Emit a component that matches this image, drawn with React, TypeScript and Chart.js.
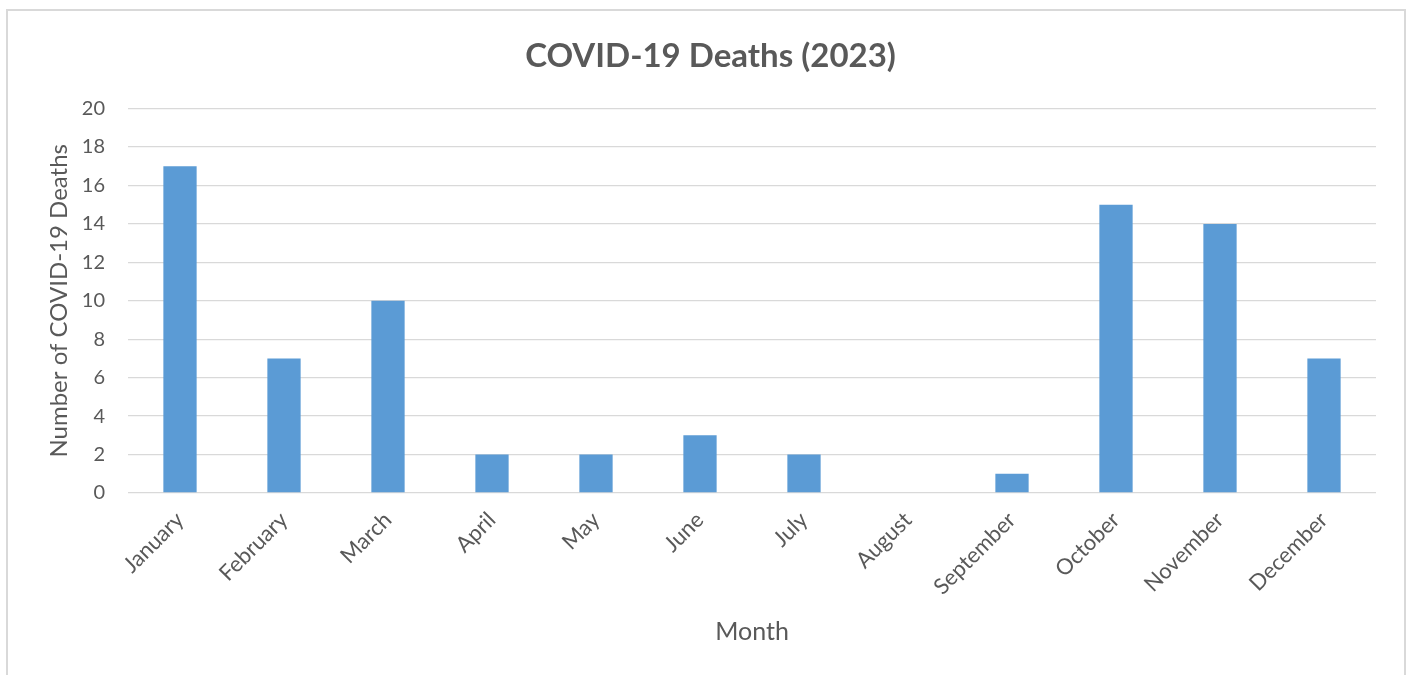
import React, { useEffect, useRef } from "react";
import { Chart, registerables } from "chart.js";

Chart.register(...registerables);

const months = [
  "January", "February", "March", "April", "May", "June",
  "July", "August", "September", "October", "November", "December",
];
const deaths = [17, 7, 10, 2, 2, 3, 2, 0, 1, 15, 14, 7];
const chartTitle = "COVID-19 Deaths (2023)";
const xTitle = "Month";
const yTitle = "Number of COVID-19 Deaths";

const FONT = "Lato, 'Open Sans', sans-serif";
const TEXT = "#595959";

export default function App() {
  const ref = useRef<HTMLCanvasElement | null>(null);
  useEffect(() => {
    if (!ref.current) return;
    const chart = new Chart(ref.current, {
      type: "bar",
      data: {
        labels: months,
        datasets: [
          {
            data: deaths,
            backgroundColor: "#5B9BD5",
            borderWidth: 0,
            barPercentage: 0.32,
            categoryPercentage: 1,
          },
        ],
      },
      options: {
        animation: false,
        responsive: false,
        devicePixelRatio: 1,
        layout: { padding: { left: 45, right: 30, top: 0, bottom: 28 } },
        plugins: {
          legend: { display: false },
          tooltip: { enabled: false },
          title: {
            display: true,
            text: chartTitle,
            color: TEXT,
            font: { family: FONT, size: 33, weight: "bold" },
            padding: { top: 37, bottom: 32 },
          },
        },
        scales: {
          x: {
            grid: { display: false, drawTicks: false },
            border: { display: false },
            ticks: {
              color: TEXT,
              font: { family: FONT, size: 22 },
              maxRotation: 45,
              minRotation: 45,
              autoSkip: false,
              padding: 14,
            },
            title: {
              display: true,
              text: xTitle,
              color: TEXT,
              font: { family: FONT, size: 25 },
              padding: 0,
            },
            afterFit: (s: any) => {
              s.height = 154;
            },
          },
          y: {
            min: 0,
            max: 20,
            ticks: {
              stepSize: 2,
              color: TEXT,
              font: { family: FONT, size: 20 },
              padding: 23,
            },
            grid: { color: "#D9D9D9", lineWidth: 1.3, drawTicks: false },
            border: { display: false },
            title: {
              display: true,
              text: yTitle,
              color: TEXT,
              font: { family: FONT, size: 24 },
              padding: 0,
            },
            afterFit: (s: any) => {
              s.width = 83;
            },
          },
        },
      },
    });
    return () => chart.destroy();
  }, []);

  return (
    <div style={{ position: "absolute", left: 0, top: 0, width: 1406, height: 675, background: "#fff", overflow: "hidden" }}>
      <canvas ref={ref} width={1406} height={675} style={{ position: "absolute", left: 0, top: 0, width: 1406, height: 675 }} />
      <div
        style={{
          position: "absolute",
          left: 6,
          top: 9,
          width: 1396,
          height: 700,
          border: "2px solid #D9D9D9",
          pointerEvents: "none",
        }}
      />
    </div>
  );
}
